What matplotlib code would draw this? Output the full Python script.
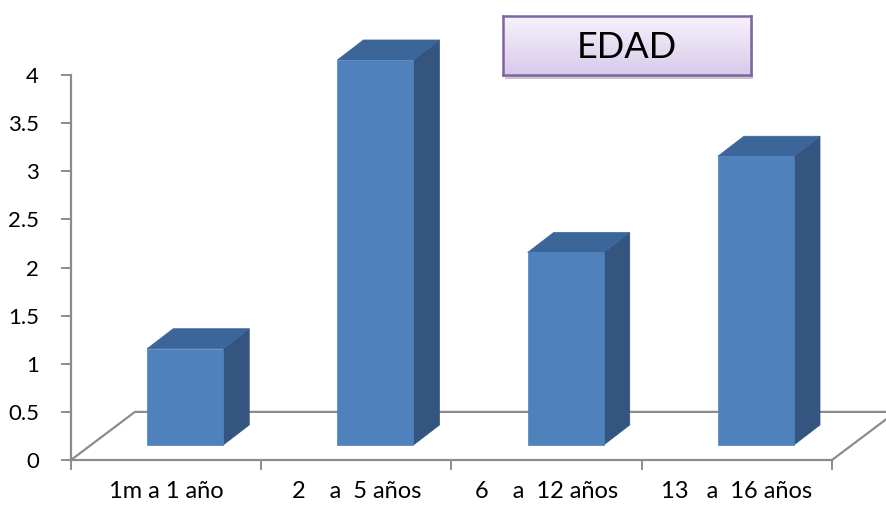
import numpy as np
import matplotlib.pyplot as plt
from matplotlib.patches import Polygon, Rectangle
from matplotlib.colors import LinearSegmentedColormap

plt.rcParams['font.family'] = ['Lato', 'DejaVu Sans']

# data
categories = ["1m a 1 año", "2    a  5 años", "6    a  12 años", "13   a  16 años"]
values = [1, 4, 2, 3]
yticks = [0, 0.5, 1, 1.5, 2, 2.5, 3, 3.5, 4]

# pseudo-3d geometry (data units)
floor_dx, floor_dy = 0.336, 0.50
bar_lo, bar_hi = 0.40, 0.80
bar_z0 = 0.156          # lift of front face above the floor front edge
bar_dx, bar_dy = 0.137, 0.208

c_front = "#4F81BD"
c_side = "#34557F"
c_top = "#3C6699"
c_axis = "#8C8C8C"

W, H = 887, 505
fig = plt.figure(figsize=(W / 100, H / 100), dpi=100)
ax = fig.add_axes([71 / W, (H - 460) / H, 761 / W, 385 / H])
ax.set_xlim(0, len(categories))
ax.set_ylim(0, 4)

# floor outline
n = len(categories)
floor = Polygon([(0, 0), (n, 0), (n + floor_dx, floor_dy), (floor_dx, floor_dy)],
                closed=True, facecolor="white", edgecolor="none", clip_on=False, zorder=1)
ax.add_patch(floor)
ax.plot([0, floor_dx, n + floor_dx], [0, floor_dy, floor_dy], color=c_axis, lw=1.6,
        clip_on=False, zorder=2)
ax.plot([n, n + floor_dx], [0, floor_dy], color=c_axis, lw=1.6, clip_on=False, zorder=2)

# bars
for i, v in enumerate(values):
    x0, x1 = i + bar_lo, i + bar_hi
    y0, y1 = bar_z0, bar_z0 + v
    side = [(x1, y0), (x1 + bar_dx, y0 + bar_dy), (x1 + bar_dx, y1 + bar_dy), (x1, y1)]
    top = [(x0, y1), (x1, y1), (x1 + bar_dx, y1 + bar_dy), (x0 + bar_dx, y1 + bar_dy)]
    front = [(x0, y0), (x1, y0), (x1, y1), (x0, y1)]
    for pts, col in ((side, c_side), (top, c_top), (front, c_front)):
        ax.add_patch(Polygon(pts, closed=True, facecolor=col, edgecolor=col, lw=0.5,
                             clip_on=False, zorder=3))

# axes styling
for s in ("top", "right"):
    ax.spines[s].set_visible(False)
for s in ("left", "bottom"):
    ax.spines[s].set_color(c_axis)
    ax.spines[s].set_linewidth(1.6)
ax.set_yticks(yticks)
ax.set_yticklabels([f"{t:g}" for t in yticks])
ax.tick_params(axis="y", length=7, width=1.4, color=c_axis, pad=16, labelsize=16)
ax.set_xticks(range(n + 1))
ax.set_xticklabels([])
ax.set_xticks([i + 0.5 for i in range(n)], minor=True)
ax.set_xticklabels(categories, minor=True, fontsize=17)
ax.tick_params(axis="x", which="major", length=7, width=1.4, color=c_axis)
ax.tick_params(axis="x", which="minor", length=0, pad=15)
ax.patch.set_visible(False)

# title box with lavender gradient and soft drop shadow
tx0, ty0, tw, th = 503, 16, 248, 59
shadow_ax = fig.add_axes([(tx0 + 2) / W, (H - ty0 - th - 4) / H, tw / W, th / H], zorder=4)
shadow_ax.add_patch(Rectangle((0, 0), 1, 1, facecolor="#000000", alpha=0.22,
                              edgecolor="none"))
shadow_ax.axis("off")
tax = fig.add_axes([tx0 / W, (H - ty0 - th) / H, tw / W, th / H], zorder=5)
grad = np.linspace(0, 1, 64).reshape(-1, 1)
cmap = LinearSegmentedColormap.from_list("lav", ["#F6F2FB", "#D8CAEA"])
tax.imshow(grad, aspect="auto", cmap=cmap, extent=[0, 1, 0, 1], origin="upper")
tax.set_xticks([])
tax.set_yticks([])
for s in tax.spines.values():
    s.set_color("#8064A2")
    s.set_linewidth(1.8)
tax.text(0.5, 0.47, "EDAD", ha="center", va="center", fontsize=26, color="black",
         transform=tax.transAxes)

fig.savefig("out.png", dpi=100)
